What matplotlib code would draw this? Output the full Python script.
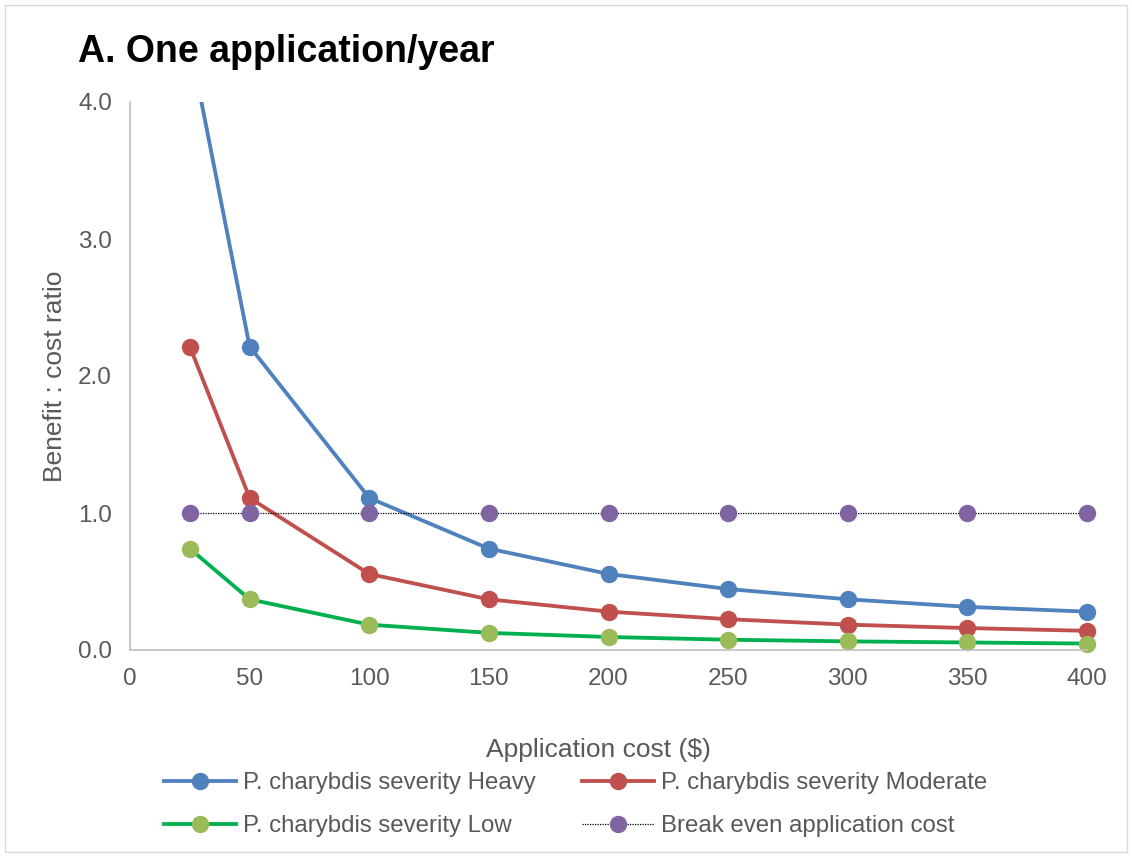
import matplotlib.pyplot as plt
from matplotlib.patches import Rectangle

plt.rcParams['font.family'] = ['Liberation Sans', 'DejaVu Sans']

# application cost ($)
cost = [25, 50, 100, 150, 200, 250, 300, 350, 400]

# benefit : cost ratio per severity
heavy = [4.43, 2.215, 1.11, 0.74, 0.555, 0.445, 0.37, 0.315, 0.28]
moderate = [2.215, 1.11, 0.555, 0.37, 0.28, 0.225, 0.185, 0.16, 0.14]
low = [0.74, 0.37, 0.185, 0.125, 0.095, 0.075, 0.063, 0.055, 0.047]
break_even = [1.0, 1.0, 1.0, 1.0, 1.0, 1.0, 1.0, 1.0, 1.0]

labels = ['P. charybdis severity Heavy', 'P. charybdis severity Moderate',
          'P. charybdis severity Low', 'Break even application cost']

fig = plt.figure(figsize=(11.32, 8.57), dpi=100)
fig.patches.append(Rectangle((5 / 1132, 5 / 857), 1122 / 1132, 847 / 857,
                             transform=fig.transFigure, fill=False,
                             edgecolor='#D9D9D9', linewidth=1))

ax = fig.add_axes([130 / 1132, 207 / 857, 957 / 1132, 548 / 857])

ms = 11.5
lw = 2.75
h1, = ax.plot(cost, heavy, color='#4F81BD', lw=lw, marker='o', ms=ms,
              mec='#4F81BD', mfc='#4F81BD', label=labels[0])
h2, = ax.plot(cost, moderate, color='#C0504D', lw=lw, marker='o', ms=ms,
              mec='#C0504D', mfc='#C0504D', label=labels[1])
h3, = ax.plot(cost, low, color='#00B050', lw=lw, marker='o', ms=ms,
              mec='#9BBB59', mfc='#9BBB59', label=labels[2])
h4, = ax.plot(cost, break_even, color='black', lw=0.9, ls=(0, (1.0, 1.0)),
              marker='o', ms=ms, mec='#8064A2', mfc='#8064A2', label=labels[3])

# clip only at the top so end markers are not cut
clip = Rectangle((-0.05, -0.05), 1.1, 1.05, transform=ax.transAxes)
for h in (h1, h2, h3, h4):
    h.set_clip_path(clip)

ax.set_xlim(0, 400)
ax.set_ylim(0, 4.0)
ax.set_xticks(range(0, 401, 50))
ax.set_yticks([0, 1, 2, 3, 4])
ax.set_yticklabels(['0.0', '1.0', '2.0', '3.0', '4.0'])
ax.tick_params(length=0, labelsize=17.5, colors='#595959')
ax.tick_params(axis='x', pad=13)
ax.tick_params(axis='y', pad=13)

for s in ('top', 'right'):
    ax.spines[s].set_visible(False)
for s in ('left', 'bottom'):
    ax.spines[s].set_color('#BFBFBF')
    ax.spines[s].set_linewidth(1.2)

ax.set_xlabel('Application cost ($)', fontsize=19, color='#595959', va='center')
ax.set_ylabel('Benefit : cost ratio', fontsize=19, color='#595959', va='center')
ax.xaxis.set_label_coords((598 - 130) / 957, (650 - 750) / 548)
ax.yaxis.set_label_coords((55 - 130) / 957, 0.5)

fig.text(78 / 1132, 1 - 52 / 857, 'A. One application/year', fontsize=27,
         fontweight='bold', va='center', ha='left')

fig.legend(handles=[h1, h3, h2, h4], ncol=2, loc='upper left',
           bbox_to_anchor=(164 / 1132, 1 - 772 / 857), frameon=False,
           fontsize=17.3, labelcolor='#595959', handlelength=3,
           handletextpad=0.3, columnspacing=1.9, labelspacing=0.88,
           borderpad=0, borderaxespad=0)

fig.savefig('out.png', dpi=100)
